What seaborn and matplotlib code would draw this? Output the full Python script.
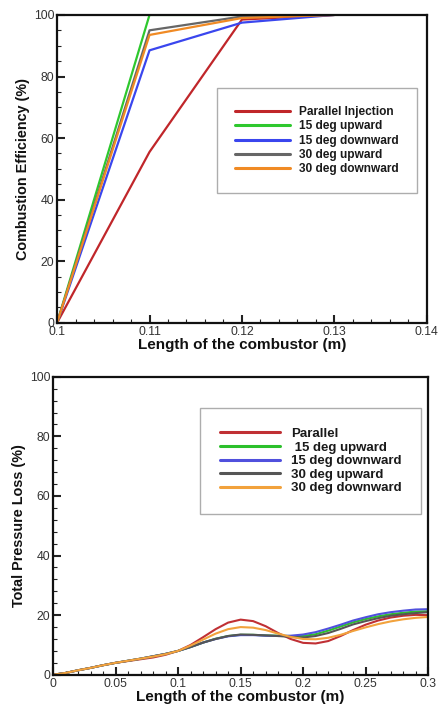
import numpy as np
import pandas as pd
import matplotlib
matplotlib.use("Agg")
import matplotlib.pyplot as plt
from matplotlib.ticker import AutoMinorLocator
import seaborn as sns

# ---------------- data ----------------
top_x = [0.10, 0.11, 0.12, 0.13]
top_series = {
    "Parallel Injection": [0.0, 55.5, 98.5, 100.0],
    "15 deg upward": [0.0, 100.0, 100.0, 100.0],
    "15 deg downward": [0.0, 88.5, 97.5, 100.0],
    "30 deg upward": [0.0, 95.0, 99.5, 100.0],
    "30 deg downward": [0.0, 93.5, 99.0, 100.0],
}
top_colors = ["#c0262a", "#2ec82e", "#3a46ee", "#666666", "#f08a24"]
top_xticks = [0.10, 0.11, 0.12, 0.13, 0.14]
top_xticklabels = ["0.1", "0.11", "0.12", "0.13", "0.14"]

bot_x = [round(0.01 * i, 2) for i in range(31)]
bot_parallel = [0.0, 0.6, 1.5, 2.3, 3.2, 4.0, 4.6, 5.2, 5.8, 6.7, 8.0, 10.0, 12.6, 15.3, 17.5,
                18.5, 18.0, 16.3, 14.0, 12.0, 10.7, 10.5, 11.3, 13.0, 15.0, 16.8, 18.2, 19.2,
                19.8, 20.1, 20.0]
bot_15up = [0.0, 0.6, 1.5, 2.3, 3.2, 4.0, 4.7, 5.4, 6.2, 7.0, 8.0, 9.3, 10.8, 12.1, 13.0,
            13.4, 13.4, 13.2, 13.1, 13.0, 13.0, 13.6, 14.8, 16.2, 17.6, 18.7, 19.6, 20.3,
            20.8, 21.2, 21.3]
bot_15down = [0.0, 0.6, 1.5, 2.3, 3.2, 4.0, 4.7, 5.4, 6.2, 7.0, 8.0, 9.3, 10.8, 12.0, 12.9,
              13.3, 13.3, 13.1, 13.0, 13.1, 13.5, 14.3, 15.5, 16.8, 18.2, 19.3, 20.3, 21.0,
              21.5, 21.9, 22.0]
bot_30up = [0.0, 0.6, 1.5, 2.3, 3.2, 4.0, 4.7, 5.4, 6.2, 7.0, 8.0, 9.3, 10.8, 12.0, 13.0,
            13.5, 13.4, 13.2, 13.0, 12.7, 12.5, 13.0, 14.0, 15.4, 16.9, 18.0, 19.0, 19.8,
            20.3, 20.7, 21.0]
bot_30down = [0.0, 0.6, 1.5, 2.3, 3.2, 4.0, 4.7, 5.4, 6.1, 6.9, 8.0, 9.8, 11.8, 13.8, 15.3,
              16.0, 15.8, 15.0, 13.8, 12.7, 12.0, 11.9, 12.4, 13.4, 14.7, 15.9, 17.0, 17.9,
              18.6, 19.1, 19.4]
bot_labels = ["Parallel", " 15 deg upward", "15 deg downward", "30 deg upward", "30 deg downward"]
bot_colors = ["#c03034", "#2cc02c", "#5050dd", "#555555", "#f2a23c"]
bot_xticks = [0.0, 0.05, 0.10, 0.15, 0.20, 0.25, 0.30]
bot_xticklabels = ["0", "0.05", "0.1", "0.15", "0.2", "0.25", "0.3"]
yticks = [0, 20, 40, 60, 80, 100]

# ---------------- style ----------------
sns.set_theme(style="ticks")
plt.rcParams["font.family"] = ["Liberation Sans", "DejaVu Sans"]

fig = plt.figure(figsize=(4.46, 7.11), dpi=100)
ax1 = fig.add_axes([0.128, 0.546, 0.829, 0.433])
ax2 = fig.add_axes([0.119, 0.051, 0.841, 0.419])

top_df = pd.DataFrame(
    [(x, v, name) for name, vals in top_series.items() for x, v in zip(top_x, vals)],
    columns=["x", "y", "series"],
)
sns.lineplot(data=top_df, x="x", y="y", hue="series", hue_order=list(top_series.keys()),
             palette=top_colors, ax=ax1, linewidth=1.6, legend=False, sort=False)

bot_df = pd.DataFrame(
    [(x, v, name) for name, vals in zip(bot_labels, [bot_parallel, bot_15up, bot_15down, bot_30up, bot_30down])
     for x, v in zip(bot_x, vals)],
    columns=["x", "y", "series"],
)
sns.lineplot(data=bot_df, x="x", y="y", hue="series", hue_order=bot_labels,
             palette=bot_colors, ax=ax2, linewidth=1.5, legend=False, sort=False)

def style_axes(ax, xlim, xticks, xticklabels, xlabel, ylabel, yminor):
    ax.set_xlim(*xlim)
    ax.set_ylim(0, 100)
    ax.set_xticks(xticks)
    ax.set_xticklabels(xticklabels)
    ax.set_yticks(yticks)
    ax.xaxis.set_minor_locator(AutoMinorLocator(5))
    ax.yaxis.set_minor_locator(AutoMinorLocator(yminor))
    ax.tick_params(which="both", direction="in", top=False, right=False,
                   colors="#222222", labelcolor="#333333", labelsize=8.8, pad=2)
    ax.tick_params(which="major", length=6, width=1.5)
    ax.tick_params(which="minor", length=3, width=0.8)
    for s in ax.spines.values():
        s.set_visible(True)
        s.set_color("#111111")
        s.set_linewidth(1.6)
    ax.set_xlabel(xlabel, fontsize=11, fontweight="bold", color="#111111", labelpad=0)
    ax.set_ylabel(ylabel, fontsize=10.4, fontweight="bold", color="#111111", labelpad=3)

style_axes(ax1, (0.10, 0.14), top_xticks, top_xticklabels,
           "Length of the combustor (m)", "Combustion Efficiency (%)", 4)
style_axes(ax2, (0.0, 0.30), bot_xticks, bot_xticklabels,
           "Length of the combustor (m)", "Total Pressure Loss (%)", 5)

def add_legend(labels, colors, anchor, handlelength, size, spacing):
    handles = [plt.Line2D([], [], color=c, linewidth=2.2) for c in colors]
    leg = fig.legend(handles, labels, loc="upper left", bbox_to_anchor=anchor,
                     bbox_transform=fig.transFigure, frameon=True, fancybox=False,
                     prop={"family": "Liberation Sans", "weight": "bold", "size": size},
                     handlelength=handlelength, handletextpad=0.8, labelspacing=spacing,
                     borderpad=1.5, borderaxespad=0)
    fr = leg.get_frame()
    fr.set_edgecolor("#999999")
    fr.set_linewidth(1.0)
    for t in leg.get_texts():
        t.set_color("#1a1a1a")
    return leg

add_legend(list(top_series.keys()), top_colors, (217 / 446, 1 - 88 / 711), 4.6, 8.6, 0.2)
add_legend(bot_labels, bot_colors, (200 / 446, 1 - 408 / 711), 4.6, 9.5, 0.1)

fig.savefig("out.png", dpi=100)
